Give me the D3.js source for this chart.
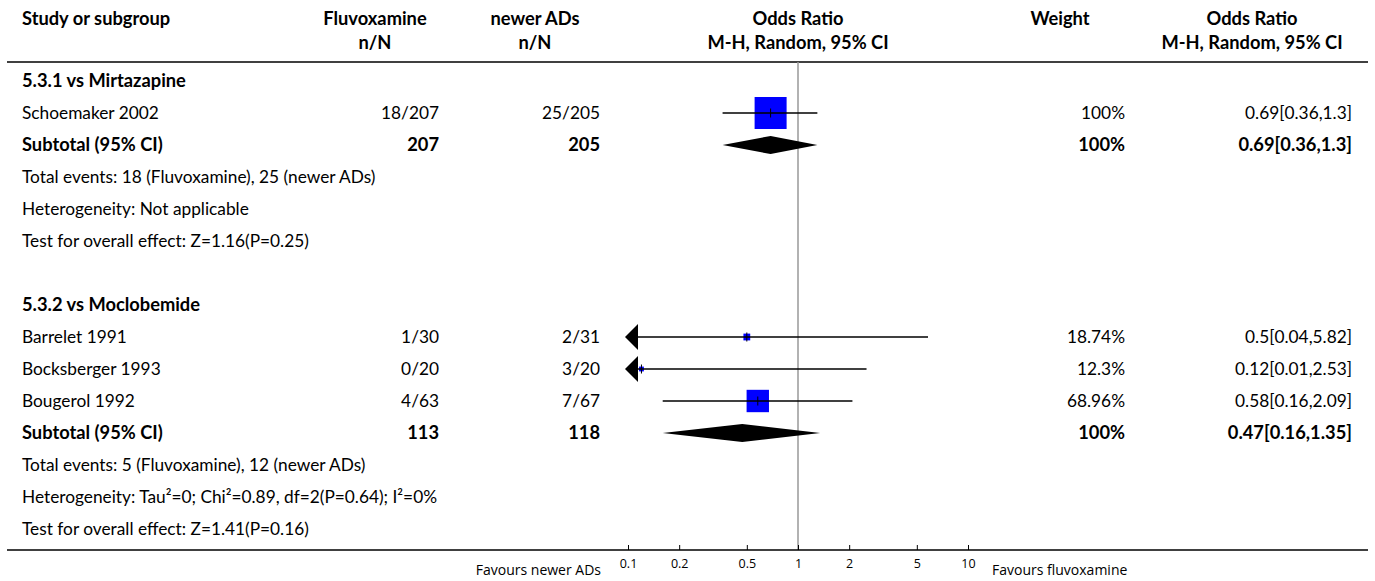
<!DOCTYPE html>
<html><head><meta charset="utf-8">
<script src="https://cdn.jsdelivr.net/npm/d3@7"></script>
<style>
html,body{margin:0;padding:0;background:#fff;}
svg{display:block;font-family:Lato,"Noto Sans",sans-serif;}
</style></head>
<body><svg id="c" width="1375" height="581"></svg>
<script>
// ---------- data ----------
const subgroups = ["5.3.1 vs Mirtazapine", "5.3.2 vs Moclobemide"];
const studies = ["Schoemaker 2002", "Barrelet 1991", "Bocksberger 1993", "Bougerol 1992"];
const studyGroup = [0, 1, 1, 1];
const fluvEvents = ["18/207", "1/30", "0/20", "4/63"];
const newerEvents = ["25/205", "2/31", "3/20", "7/67"];
const studyOR = [0.69, 0.5, 0.12, 0.58];
const studyLo = [0.36, 0.04, 0.01, 0.16];
const studyHi = [1.3, 5.82, 2.53, 2.09];
const studyWeight = [100, 18.74, 12.3, 68.96];
const studyWeightLabel = ["100%", "18.74%", "12.3%", "68.96%"];
const studyCI = ["0.69[0.36,1.3]", "0.5[0.04,5.82]", "0.12[0.01,2.53]", "0.58[0.16,2.09]"];
const subFluvN = ["207", "113"];
const subNewerN = ["205", "118"];
const subOR = [0.69, 0.47];
const subLo = [0.36, 0.16];
const subHi = [1.3, 1.35];
const subWeightLabel = ["100%", "100%"];
const subCI = ["0.69[0.36,1.3]", "0.47[0.16,1.35]"];
const totalEvents = ["Total events: 18 (Fluvoxamine), 25 (newer ADs)", "Total events: 5 (Fluvoxamine), 12 (newer ADs)"];
const heterogeneity = ["Heterogeneity: Not applicable", "Heterogeneity: Tau\u00B2=0; Chi\u00B2=0.89, df=2(P=0.64); I\u00B2=0%"];
const overallTest = ["Test for overall effect: Z=1.16(P=0.25)", "Test for overall effect: Z=1.41(P=0.16)"];
const axisTicks = [0.1, 0.2, 0.5, 1, 2, 5, 10];
const headers1 = ["Study or subgroup", "Fluvoxamine", "newer ADs", "Odds Ratio", "Weight", "Odds Ratio"];
const headers2 = ["", "n/N", "n/N", "M-H, Random, 95% CI", "", "M-H, Random, 95% CI"];
const favoursLeft = "Favours newer ADs";
const favoursRight = "Favours fluvoxamine";

// ---------- layout ----------
const svg = d3.select("#c");
const FS = 17.3, FSB = 18.3;
const xLeft = 22;
const colFluv = {c: 375, r: 439};
const colNewer = {c: 535, r: 600};
const colPlot = {c: 798};
const colW = {c: 1060, r: 1125};
const colOR = {c: 1252, r: 1352};
const x = d3.scaleLog().domain([0.1, 10]).range([628, 968]);
const plotMin = x.range()[0], plotMax = x.range()[1];
const headY1 = 19, headY2 = 43, headLine = 62;
const row0 = 81, rowStep = 32;
const bottomLine = 550;

// build rows
const rows = [];
subgroups.forEach((g, gi) => {
  rows.push({type: "group", label: g});
  studies.forEach((s, si) => {
    if (studyGroup[si] === gi) rows.push({type: "study", i: si});
  });
  rows.push({type: "subtotal", g: gi});
  rows.push({type: "note", label: totalEvents[gi]});
  rows.push({type: "note", label: heterogeneity[gi]});
  rows.push({type: "note", label: overallTest[gi]});
  if (gi < subgroups.length - 1) rows.push({type: "blank"});
});
const yRow = i => row0 + i * rowStep;

function txt(xp, yp, s, anchor, bold, size) {
  return svg.append("text").attr("x", xp).attr("y", yp)
    .attr("dy", "0.35em")
    .attr("text-anchor", anchor || "start")
    .attr("font-size", size || (bold ? FSB : FS))
    .attr("font-weight", bold ? "bold" : "normal")
    .attr("fill", "#000").text(s);
}

// headers
const hx = [xLeft, colFluv.c, colNewer.c, colPlot.c, colW.c, colOR.c];
headers1.forEach((h, i) => txt(hx[i], headY1, h, i === 0 ? "start" : "middle", true));
headers2.forEach((h, i) => { if (h) txt(hx[i], headY2, h, "middle", true); });

// lines
svg.append("line").attr("x1", 7).attr("x2", 1368).attr("y1", headLine).attr("y2", headLine)
  .attr("stroke", "#000").attr("stroke-width", 1.3);
svg.append("line").attr("x1", x(1)).attr("x2", x(1)).attr("y1", headLine).attr("y2", bottomLine)
  .attr("stroke", "#999").attr("stroke-width", 1.5);
svg.append("line").attr("x1", 7).attr("x2", 1368).attr("y1", bottomLine).attr("y2", bottomLine)
  .attr("stroke", "#000").attr("stroke-width", 1.3);

// rows
const g = svg.append("g");
rows.forEach((r, i) => {
  const y = yRow(i);
  if (r.type === "group") txt(xLeft, y, r.label, "start", true);
  else if (r.type === "note") txt(xLeft, y, r.label, "start", false);
  else if (r.type === "study") {
    const k = r.i;
    txt(xLeft, y, studies[k], "start", false);
    txt(colFluv.r, y, fluvEvents[k], "end", false);
    txt(colNewer.r, y, newerEvents[k], "end", false);
    txt(colW.r, y, studyWeightLabel[k], "end", false);
    txt(colOR.r, y, studyCI[k], "end", false);
    const lo = studyLo[k], hi = studyHi[k];
    const x1 = lo < 0.1 ? x(0.1) + 8 : x(lo);
    const x2 = hi > 10 ? x(10) - 8 : x(hi);
    const sz = 31 * studyWeight[k] / 100 + 1;
    const cx = x(studyOR[k]);
    g.append("rect").attr("x", cx - sz / 2).attr("y", y - sz / 2).attr("width", sz).attr("height", sz)
      .attr("fill", "#0000ff");
    g.append("line").attr("x1", x1).attr("x2", x2).attr("y1", y).attr("y2", y)
      .attr("stroke", "#000").attr("stroke-width", 1.3);
    if (lo < 0.1) {
      const tip = x(0.1) - 3, base = x(0.1) + 10;
      g.append("path").attr("d", `M${tip},${y} L${base},${y - 13} L${base},${y + 13} Z`).attr("fill", "#000");
    }
    g.append("line").attr("x1", cx).attr("x2", cx).attr("y1", y - 4.5).attr("y2", y + 4.5)
      .attr("stroke", "#000").attr("stroke-width", 1);
  } else if (r.type === "subtotal") {
    const k = r.g;
    txt(xLeft, y, "Subtotal (95% CI)", "start", true);
    txt(colFluv.r, y, subFluvN[k], "end", true);
    txt(colNewer.r, y, subNewerN[k], "end", true);
    txt(colW.r, y, subWeightLabel[k], "end", true);
    txt(colOR.r, y, subCI[k], "end", true);
    const a = x(subLo[k]), m = x(subOR[k]), b = x(subHi[k]);
    g.append("path").attr("d", `M${a},${y} L${m},${y - 9} L${b},${y} L${m},${y + 9} Z`).attr("fill", "#000");
  }
});

// axis
const axis = d3.axisBottom(x).tickValues(axisTicks).tickFormat(d3.format("~g"))
  .tickSizeInner(-5).tickSizeOuter(0).tickPadding(9);
const ag = svg.append("g").attr("transform", `translate(0,${bottomLine})`).call(axis);
ag.select(".domain").remove();
ag.selectAll(".tick line").attr("stroke", "#000").attr("stroke-width", 1);
ag.selectAll(".tick text").attr("font-size", 12.5).attr("font-family", "'Open Sans',sans-serif").attr("fill", "#000");

txt(plotMin - 27, 570, favoursLeft, "end", false, 14).attr("font-family", "'Open Sans',sans-serif");
txt(plotMax + 24, 570, favoursRight, "start", false, 14).attr("font-family", "'Open Sans',sans-serif");
</script></body></html>
